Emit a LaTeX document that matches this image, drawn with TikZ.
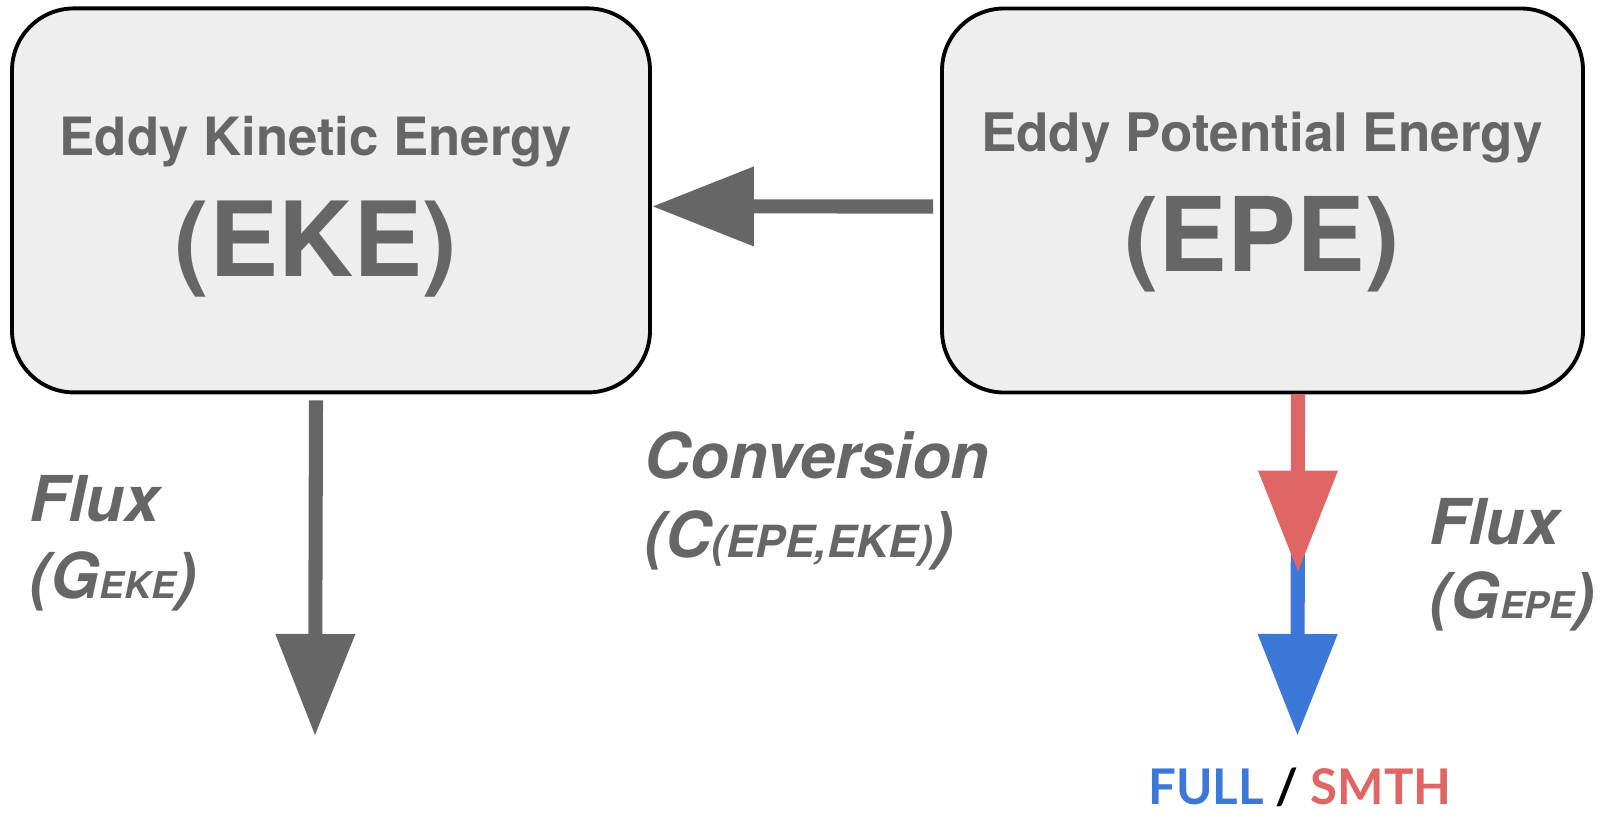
\documentclass[tikz,border=0pt]{standalone}
\usepackage{fontspec}
\setmainfont{TeX Gyre Heros}
\newfontfamily\latofont{Lato}
\usepackage{xcolor}
\usepackage{tikz}
\usetikzlibrary{
    arrows.meta,
    positioning
}
\definecolor{txtgray}{HTML}{666666}
\definecolor{boxbg}{HTML}{EEEEEE}
\definecolor{smthred}{HTML}{E06666}
\definecolor{fullblue}{HTML}{3C78D8}

\begin{document}
\begin{tikzpicture}[
    energybox/.style={rectangle, draw=black, line width=1.1pt, fill=boxbg,
        rounded corners=0.62cm, minimum width=6.38cm, minimum height=3.84cm},
    boxtext/.style={anchor=base, inner sep=0pt, text=txtgray},
    flow/.style={line width=4pt, -{Triangle[length=1.02cm, width=0.76cm]}},
    lbl/.style={anchor=base west, inner sep=0pt, text=txtgray}
]
\useasboundingbox (0,0) rectangle (16.03,-8.14);

    % Reservoirs
    \node[energybox] (eke) at (3.31,-2.004) {};
    \node[energybox, minimum width=6.41cm] (epe) at (12.625,-2.005) {};

    \node[boxtext, font=\fontsize{15}{17}\selectfont\bfseries] (eketitle) at (3.16,-1.555) {Eddy Kinetic Energy};
    \node[boxtext, font=\fontsize{29.5}{32}\selectfont\bfseries] (ekeabbr) at (3.16,-2.76) {(EKE)};
    \node[boxtext, font=\fontsize{15.1}{17}\selectfont\bfseries] (epetitle) at (12.62,-1.51) {Eddy Potential Energy};
    \node[boxtext, font=\fontsize{29.3}{32}\selectfont\bfseries] (epeabbr) at (12.62,-2.71) {(EPE)};

    % Conversion EPE -> EKE
    \draw[flow, txtgray] ([xshift=-0.07cm, yshift=-0.6mm]epe.west) -- ([yshift=-0.6mm]eke.east);

    % Fluxes
    \coordinate (ekeout) at (3.15,-7.36);
    \coordinate (fullout) at (12.975,-7.36);
    \coordinate (smthout) at (12.98,-5.725);
    \draw[flow, txtgray] ([xshift=-0.15cm, yshift=-0.06cm]eke.south) -- (ekeout);
    \draw[flow, fullblue] ([xshift=0.355cm]epe.south) -- (fullout);
    \draw[flow, smthred] ([xshift=0.355cm]epe.south) -- (smthout);

    % Labels
    \node[lbl, font=\fontsize{18}{20}\selectfont\bfseries\itshape] (fluxeke) at (0.29,-5.215) {Flux};
    \node[lbl, font=\fontsize{18}{20}\selectfont\bfseries\itshape] (geke) at (0.29,-5.98)
        {(G{\fontsize{10.5}{12}\selectfont EKE})};
    \node[lbl, font=\fontsize{18}{20}\selectfont\bfseries\itshape] (conv) at (6.44,-4.78) {Conversion};
    \node[lbl, font=\fontsize{18}{20}\selectfont\bfseries\itshape] (cepeeke) at (6.44,-5.57)
        {(C{\fontsize{12.6}{14}\selectfont(EPE,EKE)})};
    \node[lbl, font=\fontsize{18}{20}\selectfont\bfseries\itshape] (fluxepe) at (14.29,-5.44) {Flux};
    \node[lbl, font=\fontsize{18}{20}\selectfont\bfseries\itshape] (gepe) at (14.29,-6.185)
        {(G{\fontsize{10.5}{12}\selectfont EPE})};

    % Legend
    \node[anchor=base, inner sep=0pt, font=\fontsize{14}{16}\selectfont\latofont\bfseries] (legend) at (13.0,-8.04)
        {\textcolor{fullblue}{FULL} / \textcolor{smthred}{SMTH}};

\end{tikzpicture}
\end{document}
